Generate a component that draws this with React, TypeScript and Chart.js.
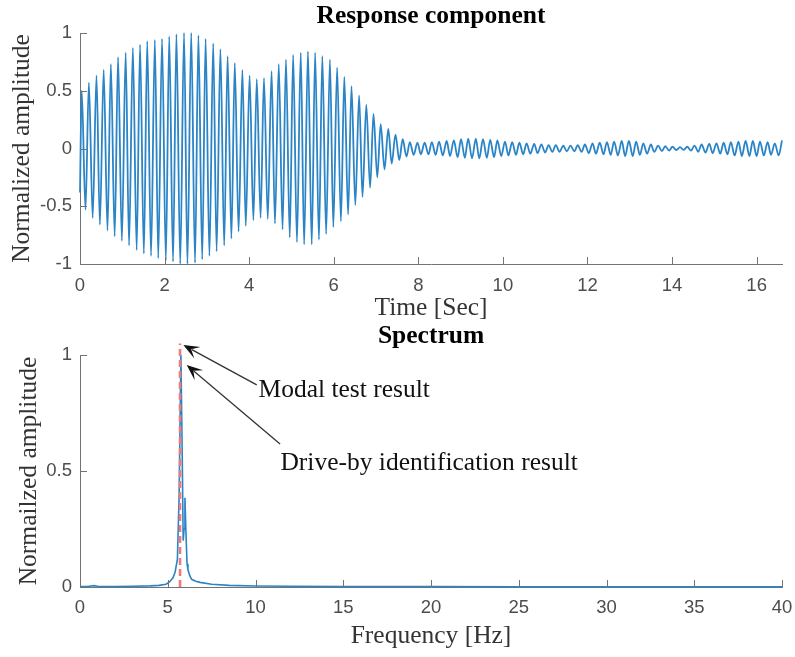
import React, { useEffect, useRef } from 'react';
import { Chart, registerables } from 'chart.js';

Chart.register(...registerables);

// ---------------- Data: response component (time signal extrema) ----------------
const responsePeakTimes = [
  0.04, 0.21, 0.39, 0.56, 0.73, 0.9, 1.08, 1.25, 1.42, 1.59,
  1.77, 1.94, 2.11, 2.28, 2.46, 2.63, 2.8, 2.97, 3.15, 3.32,
  3.49, 3.66, 3.84, 4.01, 4.18, 4.35, 4.53, 4.7, 4.87, 5.04,
  5.22, 5.39, 5.56, 5.73, 5.91, 6.08, 6.25, 6.42, 6.6, 6.77,
  6.94, 7.11, 7.29, 7.46, 7.63, 7.8, 7.98, 8.15, 8.32, 8.49,
  8.67, 8.84, 9.01, 9.18, 9.36, 9.53, 9.7, 9.87, 10.05, 10.22,
  10.39, 10.56, 10.74, 10.91, 11.08, 11.25, 11.43, 11.6, 11.77, 11.94,
  12.12, 12.29, 12.46, 12.63, 12.81, 12.98, 13.15, 13.32, 13.5, 13.67,
  13.84, 14.01, 14.19, 14.36, 14.53, 14.7, 14.88, 15.05, 15.22, 15.39,
  15.57, 15.74, 15.91, 16.08, 16.26, 16.43, 16.6,
];
const responsePeakValues = [
  0.5, 0.57, 0.63, 0.68, 0.73, 0.79, 0.83, 0.87, 0.9, 0.93,
  0.94, 0.95, 0.97, 0.99, 1.0, 1.0, 0.98, 0.95, 0.91, 0.86,
  0.8, 0.74, 0.68, 0.63, 0.6, 0.61, 0.67, 0.73, 0.77, 0.81,
  0.83, 0.84, 0.83, 0.8, 0.77, 0.7, 0.62, 0.54, 0.46, 0.38,
  0.3, 0.21, 0.17, 0.12, 0.08, 0.055, 0.05, 0.05, 0.055, 0.06,
  0.065, 0.07, 0.08, 0.085, 0.085, 0.08, 0.075, 0.07, 0.06, 0.055,
  0.05, 0.045, 0.04, 0.035, 0.03, 0.03, 0.025, 0.025, 0.03, 0.035,
  0.045, 0.05, 0.055, 0.06, 0.065, 0.065, 0.06, 0.045, 0.035, 0.025,
  0.02, 0.015, 0.012, 0.015, 0.025, 0.035, 0.04, 0.045, 0.05, 0.055,
  0.06, 0.065, 0.065, 0.06, 0.055, 0.045, 0.07,
];
const responseTroughTimes = [
  0.0, 0.13, 0.3, 0.47, 0.65, 0.82, 0.99, 1.16, 1.34, 1.51, 1.68,
  1.85, 2.03, 2.2, 2.37, 2.54, 2.72, 2.89, 3.06, 3.23, 3.41,
  3.58, 3.75, 3.92, 4.1, 4.27, 4.44, 4.61, 4.79, 4.96, 5.13,
  5.3, 5.48, 5.65, 5.82, 5.99, 6.17, 6.34, 6.51, 6.68, 6.86,
  7.03, 7.2, 7.37, 7.55, 7.72, 7.89, 8.06, 8.24, 8.41, 8.58,
  8.75, 8.93, 9.1, 9.27, 9.44, 9.62, 9.79, 9.96, 10.13, 10.31,
  10.48, 10.65, 10.82, 11.0, 11.17, 11.34, 11.51, 11.69, 11.86, 12.03,
  12.2, 12.38, 12.55, 12.72, 12.89, 13.07, 13.24, 13.41, 13.58, 13.76,
  13.93, 14.1, 14.27, 14.45, 14.62, 14.79, 14.96, 15.14, 15.31, 15.48,
  15.65, 15.83, 16.0, 16.17, 16.34, 16.52,
];
const responseTroughValues = [
  -0.38, -0.53, -0.6, -0.66, -0.71, -0.76, -0.8, -0.84, -0.88, -0.91, -0.93,
  -0.95, -0.97, -0.98, -1.0, -1.0, -0.99, -0.96, -0.93, -0.89, -0.84,
  -0.78, -0.72, -0.67, -0.62, -0.6, -0.61, -0.65, -0.7, -0.77, -0.81,
  -0.83, -0.83, -0.79, -0.74, -0.68, -0.63, -0.57, -0.49, -0.42, -0.34,
  -0.25, -0.18, -0.13, -0.1, -0.07, -0.055, -0.05, -0.05, -0.055, -0.06,
  -0.065, -0.075, -0.08, -0.085, -0.085, -0.08, -0.075, -0.065, -0.06, -0.055,
  -0.05, -0.045, -0.04, -0.035, -0.03, -0.028, -0.025, -0.025, -0.03, -0.04,
  -0.045, -0.05, -0.055, -0.06, -0.065, -0.065, -0.055, -0.045, -0.03, -0.022,
  -0.018, -0.013, -0.012, -0.018, -0.028, -0.035, -0.04, -0.045, -0.05, -0.06,
  -0.065, -0.065, -0.065, -0.06, -0.055, -0.06,
];
const timeTicks = [0, 2, 4, 6, 8, 10, 12, 14, 16];
const responseTicks = [-1, -0.5, 0, 0.5, 1];
const timeMax = 16.6;

// ---------------- Data: spectrum ----------------
const spectrumFreqs = [
  0, 0.5, 0.8, 1.0, 2, 3, 4, 4.5, 4.9, 5.1, 5.3, 5.42, 5.55, 5.65, 5.75,
  5.82, 5.88, 5.93, 5.98, 6.03, 6.1, 6.15, 6.25, 6.36, 6.6, 6.84, 7.5, 8.5,
  10, 12, 15, 20, 25, 30, 35, 40,
];
const spectrumAmps = [
  0.002, 0.003, 0.006, 0.003, 0.002, 0.003, 0.005, 0.007, 0.012, 0.022, 0.04, 0.065, 0.12, 0.4, 1.0,
  0.6, 0.2, 0.25, 0.385, 0.25, 0.1, 0.075, 0.05, 0.033, 0.025, 0.02, 0.012, 0.007,
  0.004, 0.003, 0.002, 0.002, 0.001, 0.001, 0.001, 0.001,
];
const modalFreqs = [5.7, 5.7];
const modalAmps = [0, 1.05];
const freqTicks = [0, 5, 10, 15, 20, 25, 30, 35, 40];
const spectrumTicks = [0, 0.5, 1];

// annotations (data units of the spectrum plot)
const annotationLabels = ['Modal test result', 'Drive-by identification result'];
const annotationTextX = [10.17, 11.42];
const annotationTextY = [0.82, 0.504];
const arrowTailX = [10.07, 11.4];
const arrowTailY = [0.871, 0.616];
const arrowTipX = [5.89, 6.08];
const arrowTipY = [1.043, 0.957];

// ---------------- Styles ----------------
const SERIF = "'Liberation Serif', 'Times New Roman', Times, serif";
const SANS = "'Liberation Sans', Arial, Helvetica, sans-serif";
const AXIS_COLOR = '#737373';
const TICK_COLOR = '#4d4d4d';
const LABEL_COLOR = '#333333';
const BLUE = '#2a84c6';
const RED = '#f07a7a';
const TEXT_SIZE = 25.5;
const TICK_SIZE = 18.5;
const TICK_LEN = 7;

const plotTitle = {
  id: 'plotTitle',
  afterDraw(chart: any, _args: any, opts: any) {
    const { ctx, chartArea } = chart;
    ctx.save();
    ctx.font = `bold ${TEXT_SIZE}px ${SERIF}`;
    ctx.fillStyle = '#000';
    ctx.textAlign = 'center';
    ctx.textBaseline = 'alphabetic';
    ctx.fillText(opts.text, (chartArea.left + chartArea.right) / 2, opts.baseline);
    ctx.restore();
  },
};

const inwardTicks = {
  id: 'inwardTicks',
  afterDraw(chart: any) {
    const { ctx, chartArea, scales } = chart;
    ctx.save();
    ctx.strokeStyle = AXIS_COLOR;
    ctx.lineWidth = 1;
    ctx.beginPath();
    scales.x.ticks.forEach((t: any) => {
      const px = Math.round(scales.x.getPixelForValue(t.value)) + 0.5;
      ctx.moveTo(px, chartArea.bottom);
      ctx.lineTo(px, chartArea.bottom - TICK_LEN);
    });
    scales.y.ticks.forEach((t: any) => {
      const py = Math.round(scales.y.getPixelForValue(t.value)) + 0.5;
      ctx.moveTo(chartArea.left, py);
      ctx.lineTo(chartArea.left + TICK_LEN, py);
    });
    ctx.stroke();
    ctx.restore();
  },
};

function drawArrow(ctx: CanvasRenderingContext2D, x0: number, y0: number, x1: number, y1: number) {
  const dx = x1 - x0;
  const dy = y1 - y0;
  const len = Math.hypot(dx, dy);
  const ux = dx / len;
  const uy = dy / len;
  const nx = -uy;
  const ny = ux;
  const L = 16;
  const W = 13;
  ctx.beginPath();
  ctx.moveTo(x0, y0);
  ctx.lineTo(x1 - ux * L * 0.6, y1 - uy * L * 0.6);
  ctx.stroke();
  ctx.beginPath();
  ctx.moveTo(x1, y1);
  ctx.lineTo(x1 - ux * L + nx * W / 2, y1 - uy * L + ny * W / 2);
  ctx.lineTo(x1 - ux * L * 0.55, y1 - uy * L * 0.55);
  ctx.lineTo(x1 - ux * L - nx * W / 2, y1 - uy * L - ny * W / 2);
  ctx.closePath();
  ctx.fill();
}

const spectrumAnnotations = {
  id: 'spectrumAnnotations',
  afterDraw(chart: any) {
    const { ctx, scales } = chart;
    const xs = scales.x;
    const ys = scales.y;
    ctx.save();
    ctx.strokeStyle = '#333';
    ctx.fillStyle = '#111';
    ctx.lineWidth = 1.3;
    for (let i = 0; i < arrowTipX.length; i++) {
      drawArrow(
        ctx,
        xs.getPixelForValue(arrowTailX[i]),
        ys.getPixelForValue(arrowTailY[i]),
        xs.getPixelForValue(arrowTipX[i]),
        ys.getPixelForValue(arrowTipY[i])
      );
    }
    ctx.font = `${TEXT_SIZE}px ${SERIF}`;
    ctx.fillStyle = '#111';
    ctx.textAlign = 'left';
    ctx.textBaseline = 'alphabetic';
    annotationLabels.forEach((lab, i) => {
      ctx.fillText(lab, xs.getPixelForValue(annotationTextX[i]), ys.getPixelForValue(annotationTextY[i]));
    });
    ctx.restore();
  },
};

function buildSignal() {
  const pts: { x: number; y: number }[] = [];
  const n1 = Math.min(responsePeakTimes.length, responsePeakValues.length);
  for (let i = 0; i < n1; i++) pts.push({ x: responsePeakTimes[i], y: responsePeakValues[i] });
  const n2 = Math.min(responseTroughTimes.length, responseTroughValues.length);
  for (let i = 0; i < n2; i++) pts.push({ x: responseTroughTimes[i], y: responseTroughValues[i] });
  pts.sort((a, b) => a.x - b.x);
  return pts;
}

function axisCommon(tickValues: number[], padding: number) {
  return {
    type: 'linear' as const,
    afterBuildTicks: (s: any) => {
      s.ticks = tickValues.map((v) => ({ value: v }));
    },
    grid: { display: false, drawTicks: false },
    border: { display: true, color: AXIS_COLOR, width: 1 },
    ticks: {
      autoSkip: false,
      maxRotation: 0,
      padding,
      color: TICK_COLOR,
      font: { family: SANS, size: TICK_SIZE },
      callback: (v: any) => String(v),
    },
  };
}

function fixX(height: number) {
  return (s: any) => {
    s.height = height;
    s.paddingLeft = 0;
    s.paddingRight = 0;
  };
}
function fixY(width: number) {
  return (s: any) => {
    s.width = width;
    s.paddingTop = 0;
    s.paddingBottom = 0;
  };
}

export default function App() {
  const topRef = useRef<HTMLCanvasElement>(null);
  const botRef = useRef<HTMLCanvasElement>(null);

  useEffect(() => {
    const signal = buildSignal();
    const top = new Chart(topRef.current as HTMLCanvasElement, {
      type: 'line',
      data: {
        datasets: [
          {
            data: signal,
            borderColor: BLUE,
            borderWidth: 1.8,
            pointRadius: 0,
            cubicInterpolationMode: 'monotone',
            fill: false,
            clip: false as any,
          },
        ],
      },
      options: {
        responsive: false,
        animation: false,
        devicePixelRatio: 1,
        events: [],
        layout: { padding: { top: 33, right: 13, bottom: 0, left: 0 } },
        plugins: {
          legend: { display: false },
          tooltip: { enabled: false },
          plotTitle: { text: 'Response component', baseline: 23 },
        } as any,
        scales: {
          x: {
            ...axisCommon(timeTicks, 11),
            min: 0,
            max: timeMax,
            afterFit: fixX(62),
            title: {
              display: true,
              text: 'Time [Sec]',
              color: LABEL_COLOR,
              font: { family: SERIF, size: TEXT_SIZE },
              padding: { top: 0, bottom: 2 },
            },
          },
          y: {
            ...axisCommon(responseTicks, 8),
            min: -1,
            max: 1,
            afterFit: fixY(80),
            title: {
              display: true,
              text: 'Normalized amplitude',
              color: LABEL_COLOR,
              font: { family: SERIF, size: TEXT_SIZE },
              padding: { top: 6.5, bottom: 0 },
            },
          },
        } as any,
      },
      plugins: [plotTitle, inwardTicks],
    });

    const spectrum = spectrumFreqs.map((f, i) => ({ x: f, y: spectrumAmps[i] }));
    const modal = modalFreqs.map((f, i) => ({ x: f, y: modalAmps[i] }));
    const bot = new Chart(botRef.current as HTMLCanvasElement, {
      type: 'line',
      data: {
        datasets: [
          {
            data: modal,
            borderColor: RED,
            borderWidth: 2.6,
            borderDash: [7, 4],
            pointRadius: 0,
            fill: false,
            clip: false as any,
          },
          {
            data: spectrum,
            borderColor: BLUE,
            borderWidth: 1.6,
            pointRadius: 0,
            tension: 0,
            fill: false,
            clip: false as any,
          },
        ],
      },
      options: {
        responsive: false,
        animation: false,
        devicePixelRatio: 1,
        events: [],
        layout: { padding: { top: 29, right: 13, bottom: 0, left: 0 } },
        plugins: {
          legend: { display: false },
          tooltip: { enabled: false },
          plotTitle: { text: 'Spectrum', baseline: 16.5 },
        } as any,
        scales: {
          x: {
            ...axisCommon(freqTicks, 10),
            min: 0,
            max: 40,
            afterFit: fixX(70),
            title: {
              display: true,
              text: 'Frequency [Hz]',
              color: LABEL_COLOR,
              font: { family: SERIF, size: TEXT_SIZE },
              padding: { top: 0, bottom: 5.7 },
            },
          },
          y: {
            ...axisCommon(spectrumTicks, 8),
            min: 0,
            max: 1,
            afterFit: fixY(80),
            title: {
              display: true,
              text: 'Normailzed amplitude',
              color: LABEL_COLOR,
              font: { family: SERIF, size: TEXT_SIZE },
              padding: { top: 13.5, bottom: 0 },
            },
          },
        } as any,
      },
      plugins: [plotTitle, inwardTicks, spectrumAnnotations],
    });

    return () => {
      top.destroy();
      bot.destroy();
    };
  }, []);

  return (
    <div style={{ position: 'absolute', left: 0, top: 0, width: 795, height: 657, background: '#fff' }}>
      <canvas ref={topRef} width={795} height={326} style={{ position: 'absolute', left: 0, top: 0 }} />
      <canvas ref={botRef} width={795} height={331} style={{ position: 'absolute', left: 0, top: 326 }} />
    </div>
  );
}
